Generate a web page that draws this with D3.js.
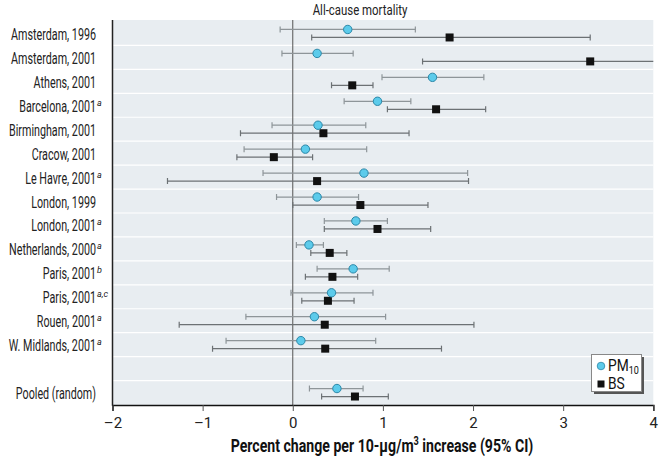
<!DOCTYPE html>
<html><head><meta charset="utf-8">
<script src="https://cdn.jsdelivr.net/npm/d3@7"></script>
<style>
html,body{margin:0;padding:0;background:#fff;}
svg{display:block;}
text{font-family:"Liberation Sans Narrow",Roboto,"Liberation Sans",sans-serif;}
</style></head>
<body><svg id="c" width="659" height="456"></svg>
<script>
const categories = ["Amsterdam, 1996","Amsterdam, 2001","Athens, 2001","Barcelona, 2001","Birmingham, 2001","Cracow, 2001","Le Havre, 2001","London, 1999","London, 2001","Netherlands, 2000","Paris, 2001","Paris, 2001","Rouen, 2001","W. Midlands, 2001","","Pooled (random)"];
const superscripts = ["","","","a","","","a","","a","a","b","a,c","a","a","",""];
const pm10Est = [0.61,0.27,1.55,0.94,0.28,0.14,0.79,0.27,0.70,0.18,0.67,0.43,0.24,0.09,null,0.49];
const pm10Lo  = [-0.14,-0.12,0.99,0.57,-0.23,-0.54,-0.33,-0.18,0.35,0.04,0.27,-0.02,-0.52,-0.74,null,0.185];
const pm10Hi  = [1.36,0.67,2.12,1.31,0.81,0.82,1.94,0.73,1.05,0.34,1.07,0.89,1.03,0.92,null,0.78];
const bsEst = [1.74,3.30,0.66,1.59,0.34,-0.21,0.27,0.75,0.94,0.41,0.44,0.39,0.355,0.36,null,0.69];
const bsLo  = [0.21,1.44,0.43,1.05,-0.58,-0.62,-1.39,0.00,0.35,0.20,0.14,0.10,-1.26,-0.89,null,0.32];
const bsHi  = [3.30,5.20,0.89,2.14,1.29,0.22,1.95,1.50,1.53,0.60,0.72,0.68,2.01,1.65,null,1.06];
const xTicks = [-2,-1,0,1,2,3,4];
const title = "All-cause mortality";

const svg = d3.select("#c");
const L=112.5, R=653.3, T=20, B=405;
const x = d3.scaleLinear().domain([-2,4]).range([L,R]);
const y = d3.scaleBand().domain(d3.range(categories.length)).range([21.5,404.5]).padding(0);

function fitWidth(textSel, target){
  const w = textSel.node().getBBox().width;
  return w>0 ? target/w : 1;
}

svg.append("rect").attr("x",L).attr("y",T).attr("width",R-L).attr("height",B-T).attr("fill","#e8edf1");
svg.append("defs").append("clipPath").attr("id","clip").append("rect").attr("x",L).attr("y",T).attr("width",R-L).attr("height",B-T);

svg.append("g").selectAll("line").data(d3.range(1,categories.length)).join("line")
  .attr("x1",L).attr("x2",R).attr("y1",i=>y(i)).attr("y2",i=>y(i))
  .attr("stroke","#ffffff").attr("stroke-width",1.2);

svg.append("line").attr("x1",x(0)).attr("x2",x(0)).attr("y1",T).attr("y2",B).attr("stroke","#555").attr("stroke-width",1);

const ax = svg.append("g").attr("transform",`translate(0,${B})`)
  .call(d3.axisBottom(x).tickValues(xTicks).tickSize(6).tickPadding(6).tickFormat(d=>d<0?"\u2013"+Math.abs(d):d));
ax.select(".domain").attr("stroke","#111").attr("stroke-width",1.6);
ax.selectAll(".tick line").attr("stroke","#555");
ax.selectAll(".tick text").attr("font-size",15).attr("fill","#222")
  .style("font-family",'"Liberation Sans Narrow",Roboto,sans-serif');
svg.append("line").attr("x1",L).attr("x2",L).attr("y1",T).attr("y2",B+0.8).attr("stroke","#222").attr("stroke-width",1.5);

const g = svg.append("g").attr("clip-path","url(#clip)");
const cap = 3;
function whiskers(lo,hi,dy,color){
  const idx = d3.range(categories.length).filter(i=>lo[i]!==null);
  const gg = g.append("g").attr("stroke",color).attr("stroke-width",1.2);
  const cy = i=>y(i)+y.bandwidth()/2+dy;
  gg.selectAll(".w").data(idx).join("line")
    .attr("x1",i=>x(lo[i])).attr("x2",i=>x(hi[i])).attr("y1",cy).attr("y2",cy);
  gg.selectAll(".cl").data(idx).join("line")
    .attr("x1",i=>x(lo[i])).attr("x2",i=>x(lo[i])).attr("y1",i=>cy(i)-cap).attr("y2",i=>cy(i)+cap);
  gg.selectAll(".ch").data(idx).join("line")
    .attr("x1",i=>x(hi[i])).attr("x2",i=>x(hi[i])).attr("y1",i=>cy(i)-cap).attr("y2",i=>cy(i)+cap);
}
whiskers(pm10Lo,pm10Hi,-4,"#8e9599");
whiskers(bsLo,bsHi,4,"#6c7174");
const idx = d3.range(categories.length).filter(i=>pm10Est[i]!==null);
const sq = 8;
g.append("g").selectAll("rect").data(idx).join("rect")
  .attr("x",i=>x(bsEst[i])-sq/2).attr("y",i=>y(i)+y.bandwidth()/2+4-sq/2)
  .attr("width",sq).attr("height",sq).attr("fill","#111");
g.append("g").selectAll("circle").data(idx).join("circle")
  .attr("cx",i=>x(pm10Est[i])).attr("cy",i=>y(i)+y.bandwidth()/2-4).attr("r",4.2)
  .attr("fill","#5ccbeb").attr("stroke","#2b87a8").attr("stroke-width",1);

// row labels
const rowG = svg.append("g");
const rowTexts = rowG.selectAll("g").data(d3.range(categories.length)).join("g")
  .append("text").attr("text-anchor","end").attr("font-size",16).attr("fill","#222")
  .text(i=>categories[i]);
const rs = Math.min(1, fitWidth(rowTexts.filter((d,i)=>i===0), 85));
rowG.selectAll("g").attr("transform",i=>`translate(96,${y(i)+y.bandwidth()/2+6.5}) scale(${rs},1)`);
svg.append("g").selectAll("text").data(d3.range(categories.length).filter(i=>superscripts[i])).join("text")
  .attr("x",97).attr("y",i=>y(i)+y.bandwidth()/2+0.5)
  .attr("font-size",9).attr("font-style","italic").attr("fill","#222")
  .text(i=>superscripts[i]);

// title
const tg = svg.append("g");
const tt = tg.append("text").attr("text-anchor","middle").attr("font-size",14).attr("fill","#222").text(title);
tg.attr("transform",`translate(360,15) scale(${Math.min(1,fitWidth(tt,95))},1)`);

// x title
const xg = svg.append("g");
const xt = xg.append("text").attr("text-anchor","middle").attr("font-size",18.5).attr("font-weight","bold").attr("fill","#111");
xt.append("tspan").text("Percent change per 10-\u00b5g/m");
xt.append("tspan").attr("dy",-7).attr("font-size",12).text("3");
xt.append("tspan").attr("dy",7).text(" increase (95% CI)");
xg.attr("transform",`translate(382,452) scale(${Math.min(1,fitWidth(xt,303))},1)`);

// legend
const lg = svg.append("g");
lg.append("rect").attr("x",594).attr("y",357).attr("width",50).attr("height",37).attr("fill","#555");
lg.append("rect").attr("x",591.5).attr("y",354.5).attr("width",50).attr("height",37).attr("fill","#fff").attr("stroke","#888").attr("stroke-width",1);
lg.append("circle").attr("cx",601).attr("cy",366).attr("r",3.8).attr("fill","#5ccbeb").attr("stroke","#2b87a8").attr("stroke-width",0.8);
lg.append("rect").attr("x",597.5).attr("y",380.5).attr("width",7).attr("height",7).attr("fill","#111");
const lgA = lg.append("g");
const lt = lgA.append("text").attr("font-size",16).attr("fill","#111");
lt.append("tspan").text("PM");
lt.append("tspan").attr("dy",3).attr("font-size",10.5).text("10");
const ls = Math.min(1, fitWidth(lt,31));
lgA.attr("transform",`translate(608,371) scale(${ls},1)`);
lg.append("g").attr("transform",`translate(608,389) scale(${ls},1)`)
  .append("text").attr("font-size",16).attr("fill","#111").text("BS");
</script>
</body></html>
